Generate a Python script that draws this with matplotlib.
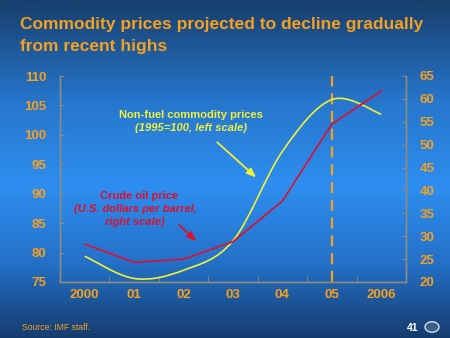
import numpy as np
import matplotlib
matplotlib.use("Agg")
import matplotlib.pyplot as plt
from matplotlib.path import Path
from matplotlib.patches import PathPatch, Circle
from matplotlib.colors import LinearSegmentedColormap

plt.rcParams['font.family'] = ['Liberation Sans', 'DejaVu Sans']

# ---- data ----
years = ['2000', '01', '02', '03', '04', '05', '2006']
nonfuel = [79.4, 75.6, 77.0, 82.0, 97.2, 106.0, 103.5]   # left scale (1995=100)
crude = [28.3, 24.3, 25.0, 28.8, 37.7, 54.5, 61.7]       # right scale (USD/barrel)
left_ticks = [75, 80, 85, 90, 95, 100, 105, 110]
right_ticks = [20, 25, 30, 35, 40, 45, 50, 55, 60, 65]
proj_start = 5  # index of projection marker (2005)

ORANGE = '#f5a01e'
YELLOW = '#f0f038'
RED = '#dc102c'
SPINE = '#8c8c80'

W, H = 450, 338
fig = plt.figure(figsize=(W / 100, H / 100), dpi=100)

# background gradient
bg = fig.add_axes([0, 0, 1, 1], zorder=-10)
cmap = LinearSegmentedColormap.from_list('bg', [
    (0.0, (24/255, 62/255, 108/255)),
    (0.3, (38/255, 118/255, 205/255)),
    (0.55, (46/255, 142/255, 240/255)),
    (0.78, (36/255, 112/255, 200/255)),
    (1.0, (22/255, 60/255, 110/255)),
])
grad = np.linspace(0, 1, 256).reshape(-1, 1)
bg.imshow(grad, aspect='auto', cmap=cmap, extent=[0, 1, 0, 1], origin='upper')
bg.set_axis_off()

# main axes
ax = fig.add_axes([60 / W, 1 - 282 / H, 346 / W, 206 / H])
ax.set_facecolor('none')
x = np.arange(len(years))
ax.set_xlim(-0.5, len(years) - 0.5)
ax.set_ylim(75, 110)

# smooth (Catmull-Rom -> Bezier) rendering of non-fuel series
pts = np.column_stack([x, nonfuel]).astype(float)
ext = np.vstack([pts[0], pts, pts[-1]])
verts = [tuple(pts[0])]
codes = [Path.MOVETO]
for i in range(len(pts) - 1):
    p0, p1, p2, p3 = ext[i], ext[i + 1], ext[i + 2], ext[i + 3]
    c1 = p1 + (p2 - p0) / 6.0
    c2 = p2 - (p3 - p1) / 6.0
    verts += [tuple(c1), tuple(c2), tuple(p2)]
    codes += [Path.CURVE4] * 3
ax.add_patch(PathPatch(Path(verts, codes), facecolor='none', edgecolor=YELLOW,
                       lw=1.2, zorder=3))

ax2 = ax.twinx()
ax2.set_ylim(20, 65)
ax2.plot(x, crude, color=RED, lw=1.2, zorder=4)

# projection marker
ax.axvline(proj_start, color=ORANGE, lw=1.6, dashes=(5, 3), zorder=2)

# axes styling
for a in (ax, ax2):
    a.spines['top'].set_visible(False)
    for s in ('left', 'right', 'bottom'):
        a.spines[s].set_color(SPINE)
        a.spines[s].set_linewidth(1.0)
ax.set_yticks(left_ticks)
ax.set_yticklabels([str(t) for t in left_ticks])
ax2.set_yticks(right_ticks)
ax2.set_yticklabels([str(t) for t in right_ticks])
ax.set_xticks(x)
ax.set_xticklabels(years)
ax.set_xticks(np.arange(0.5, len(years) - 0.5), minor=True)
ax.tick_params(axis='x', which='major', length=0, pad=5, labelsize=9.5,
               labelcolor=ORANGE)
ax.tick_params(axis='x', which='minor', direction='in', length=4, color=SPINE)
ax.tick_params(axis='y', direction='in', length=3, color=SPINE, pad=10,
               labelsize=9.5, labelcolor=ORANGE)
ax2.tick_params(axis='y', direction='in', length=3, color=SPINE, pad=10,
                labelsize=9.5, labelcolor=ORANGE)
for lab in ax.get_xticklabels() + ax.get_yticklabels() + ax2.get_yticklabels():
    lab.set_fontweight('bold')

# annotations
FS = 8.0
ax.text(2.15, 103.3, 'Non-fuel commodity prices', color=YELLOW, fontsize=FS,
        fontweight='bold', ha='center', va='center')
ax.text(2.15, 101.1, '(1995=100, left scale)', color=YELLOW, fontsize=FS,
        fontweight='bold', style='italic', ha='center', va='center')
ax.annotate('', xy=(3.51, 92.45), xytext=(2.64, 99.05),
            arrowprops=dict(arrowstyle='-|>,head_length=0.55,head_width=0.22',
                            color=YELLOW, lw=1.3))
ax2.text(1.1, 38.7, 'Crude oil price', color=RED, fontsize=FS,
         fontweight='bold', ha='center', va='center')
ax2.text(1.02, 35.9, '(U.S. dollars per barrel,', color=RED, fontsize=FS,
         fontweight='bold', style='italic', ha='center', va='center')
ax2.text(1.02, 33.0, 'right scale)', color=RED, fontsize=FS,
         fontweight='bold', style='italic', ha='center', va='center')
ax2.annotate('', xy=(2.30, 28.5), xytext=(1.87, 32.9),
             arrowprops=dict(arrowstyle='-|>,head_length=0.55,head_width=0.22',
                             color=RED, lw=1.3))

# title and footer
fig.text(20 / W, 1 - 25 / H, 'Commodity prices projected to decline gradually',
         color=ORANGE, fontsize=12.5, fontweight='bold', ha='left', va='center')
fig.text(20 / W, 1 - 46 / H, 'from recent highs',
         color=ORANGE, fontsize=12.5, fontweight='bold', ha='left', va='center')
fig.text(22 / W, 1 - 328 / H, 'Source: IMF staff.', color=ORANGE, fontsize=6.2,
         ha='left', va='center')
fig.text(418 / W, 1 - 328 / H, '41', color='white', fontsize=7.5,
         fontweight='bold', ha='right', va='center')
bg.add_patch(Circle((432 / W, 1 - 327 / H), 7 / W, transform=bg.transAxes,
                    facecolor='#3a5f8f', edgecolor='#d8dde6', lw=1.0))

fig.savefig('out.png', dpi=100)
